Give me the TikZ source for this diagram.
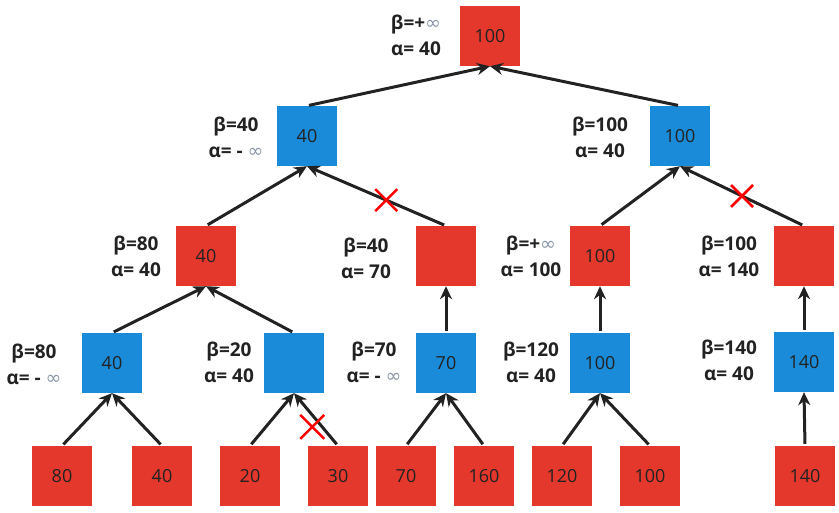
\documentclass[tikz,border=0pt]{standalone}
\usepackage{fontspec}
\setmainfont{Open Sans}
\newfontfamily\djv{DejaVu Sans}
\usetikzlibrary{arrows.meta}
\definecolor{nred}{HTML}{E5382D}
\definecolor{nblue}{HTML}{1A8BD8}
\definecolor{infgray}{HTML}{8A96A8}
\definecolor{ink}{HTML}{222222}
\newcommand\infsym{{\djv\mdseries\color{infgray}∞}}
\begin{document}
\begin{tikzpicture}[x=1pt,y=-1pt,
 box/.style={minimum size=60pt, inner sep=0pt, draw=none, font=\fontsize{18}{20}\selectfont, text=ink},
 rbox/.style={box, fill=nred},
 bbox/.style={box, fill=nblue},
 lbl/.style={align=center, inner sep=0pt, font=\fontsize{19}{26}\selectfont\bfseries, text=ink},
 edge/.style={line width=3pt, draw=ink, -{Stealth[length=13pt,width=12pt]}, shorten <=2pt},
 cut/.style={draw=red, line width=2.5pt}]
\useasboundingbox (0,0) rectangle (839,512);
% nodes
\node[rbox] (root) at (490,36) {100};
\node[bbox] (a1) at (307,136) {40};
\node[bbox] (a2) at (680,136) {100};
\node[rbox] (b1) at (206,256) {40};
\node[rbox] (b2) at (446,256) {};
\node[rbox] (b3) at (600,256) {100};
\node[rbox] (b4) at (804,256) {};
\node[bbox] (c1) at (112,363) {40};
\node[bbox] (c2) at (294,363) {};
\node[bbox] (c3) at (446,363) {70};
\node[bbox] (c4) at (600,363) {100};
\node[bbox] (c5) at (804,362) {140};
\node[rbox] (d1) at (62,476) {80};
\node[rbox] (d2) at (162,476) {40};
\node[rbox] (d3) at (250,476) {20};
\node[rbox] (d4) at (338,476) {30};
\node[rbox] (d5) at (406,476) {70};
\node[rbox] (d6) at (484,476) {160};
\node[rbox] (d7) at (562,476) {120};
\node[rbox] (d8) at (650,476) {100};
\node[rbox] (d9) at (805,476) {140};
% labels
\node[lbl] (lroot) at (416,35) {β=+\infsym\\α= 40};
\node[lbl] (la1) at (236,137) {β=40\\α= - \infsym};
\node[lbl] (la2) at (600,137) {β=100\\α= 40};
\node[lbl] (lb1) at (136,256) {β=80\\α= 40};
\node[lbl] (lb2) at (366,258) {β=40\\α= 70};
\node[lbl] (lb3) at (531,256) {β=+\infsym\\α= 100};
\node[lbl] (lb4) at (729,256) {β=100\\α= 140};
\node[lbl] (lc1) at (34,364) {β=80\\α= - \infsym};
\node[lbl] (lc2) at (229,362) {β=20\\α= 40};
\node[lbl] (lc3) at (374,362) {β=70\\α= - \infsym};
\node[lbl] (lc4) at (531,362) {β=120\\α= 40};
\node[lbl] (lc5) at (729,360) {β=140\\α= 40};
% edges
\draw[edge] (a1.north) -- (root.south);
\draw[edge] (a2.north) -- (root.south);
\draw[edge] (b1.north) -- (a1.south);
\draw[edge] (b2.north) -- coordinate[pos=0.43] (k1) (a1.south);
\draw[edge] (b3.north) -- (a2.south);
\draw[edge] (b4.north) -- coordinate[pos=0.5] (k2) (a2.south);
\draw[edge] (c1.north) -- (b1.south);
\draw[edge] (c2.north) -- (b1.south);
\draw[edge] (c3.north) -- (b2.south);
\draw[edge] (c4.north) -- (b3.south);
\draw[edge] (c5.north) -- (b4.south);
\draw[edge] (d1.north) -- (c1.south);
\draw[edge] (d2.north) -- (c1.south);
\draw[edge] (d3.north) -- (c2.south);
\draw[edge] (d4.north) -- coordinate[pos=0.36] (k3) (c2.south);
\draw[edge] (d5.north) -- (c3.south);
\draw[edge] (d6.north) -- (c3.south);
\draw[edge] (d7.north) -- (c4.south);
\draw[edge] (d8.north) -- (c4.south);
\draw[edge] (d9.north) -- (c5.south);
% cut marks
\draw[cut] ([shift={(-11,-11)}]k1) -- ([shift={(11,11)}]k1) ([shift={(-11,11)}]k1) -- ([shift={(11,-11)}]k1);
\draw[cut] ([shift={(-11,-11)}]k2) -- ([shift={(11,11)}]k2) ([shift={(-11,11)}]k2) -- ([shift={(11,-11)}]k2);
\draw[cut] ([shift={(-22,-12)}]k3) -- ([shift={(2,12)}]k3) ([shift={(-22,12)}]k3) -- ([shift={(2,-12)}]k3);
\end{tikzpicture}
\end{document}
